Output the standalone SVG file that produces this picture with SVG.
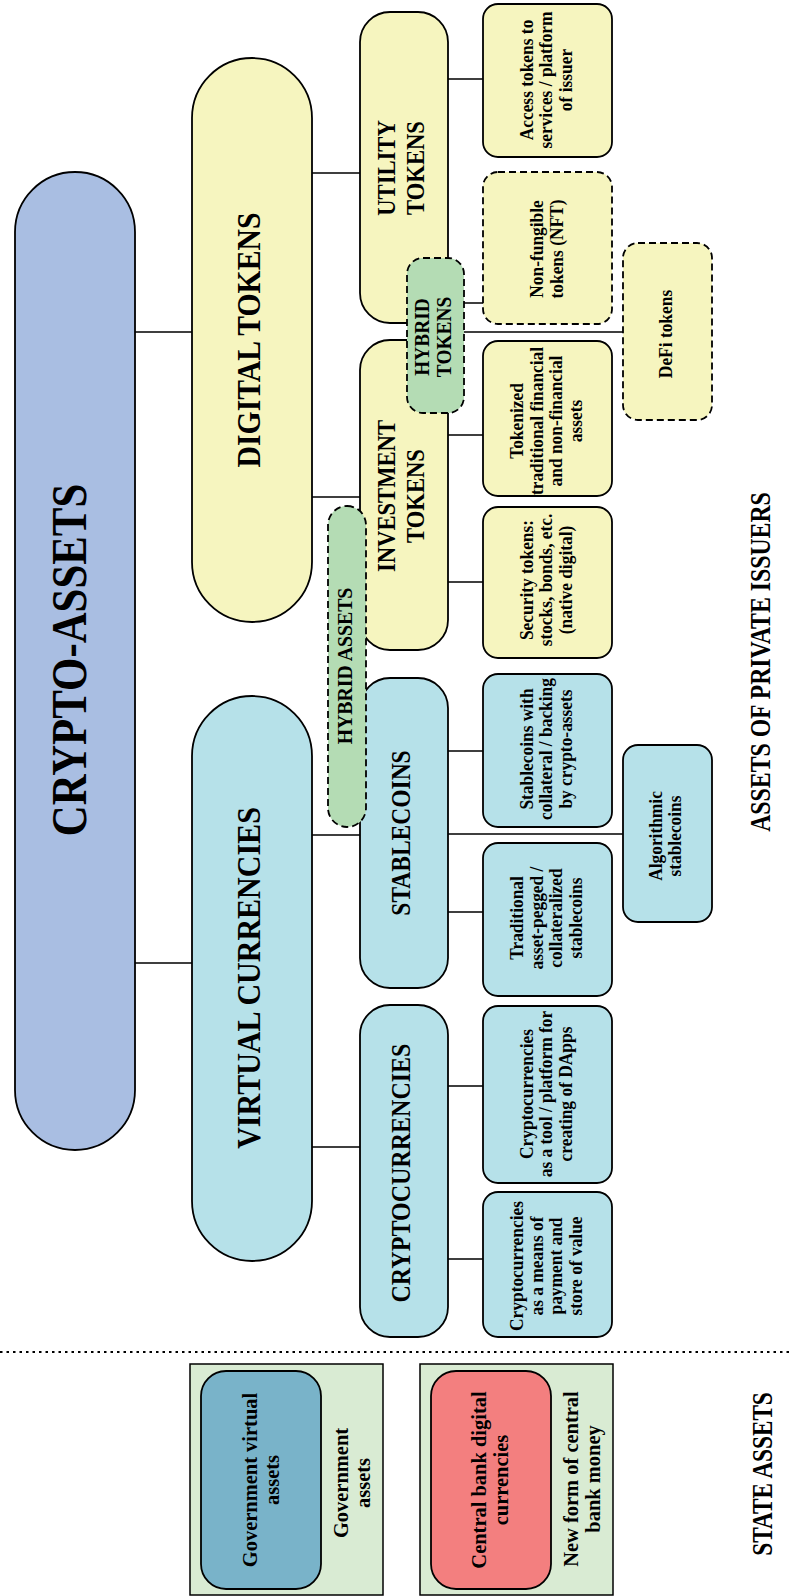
<svg xmlns="http://www.w3.org/2000/svg" width="791" height="1596" viewBox="0 0 791 1596">
<style>
.b{stroke:#000;stroke-width:1.8}
.bg{stroke:#000;stroke-width:1.5}
.d{stroke-dasharray:7 4}
.ca{fill:#a9bee2}
.ye{fill:#f6f5bf}
.bl{fill:#b6e1e9}
.gr{fill:#b4dcb4}
.so{fill:#d9ebd3}
.gv{fill:#79b3c9}
.cb{fill:#f37f7f}
.ln{stroke:#000;stroke-width:1.6;fill:none}
text{font-family:"Liberation Serif","Times New Roman",serif;font-weight:bold;text-anchor:middle;fill:#000}
.s{font-size:18.5px}
.m{font-size:22px}
</style>
<rect width="791" height="1596" fill="#fff"/>
<g id="connectors">
<path class="ln" d="M135 332H192M135 963H192M312 173H360M312 497H360M312 835H360M312 1147H360M448 79H483M464 303H483M464 332H623M448 435H483M448 582H483M448 751H483M448 834H623M448 912H483M448 1086H483M448 1259H483"/>
<line x1="0" y1="1352" x2="791" y2="1352" stroke="#000" stroke-width="2" stroke-dasharray="2.5 4"/>
</g>
<g id="crypto-assets">
<rect class="b ca" x="15" y="172" width="120" height="978" rx="60"/>
<text transform="translate(69.5,660) rotate(-90) scale(0.857,1)" font-size="50"><tspan x="0" y="16.5">CRYPTO-ASSETS</tspan></text>
</g>
<g id="digital-tokens">
<rect class="b ye" x="192" y="58" width="120" height="564" rx="60"/>
<text transform="translate(248.5,340) rotate(-90) scale(0.9,1)" font-size="33"><tspan x="0" y="11">DIGITAL TOKENS</tspan></text>
</g>
<g id="virtual-currencies">
<rect class="b bl" x="192" y="696" width="120" height="565" rx="60"/>
<text transform="translate(248.5,978) rotate(-90) scale(0.91,1)" font-size="33"><tspan x="0" y="11">VIRTUAL CURRENCIES</tspan></text>
</g>
<g id="utility-tokens">
<rect class="b ye" x="360" y="12" width="88" height="311" rx="30"/>
<text transform="translate(400.75,168) rotate(-90) scale(0.87,1)" font-size="26"><tspan x="0" y="-6.1">UTILITY</tspan><tspan x="0" y="23.4">TOKENS</tspan></text>
</g>
<g id="investment-tokens">
<rect class="b ye" x="360" y="340" width="88" height="310" rx="30"/>
<text transform="translate(400.75,496) rotate(-90) scale(0.87,1)" font-size="26"><tspan x="0" y="-6.1">INVESTMENT</tspan><tspan x="0" y="23.4">TOKENS</tspan></text>
</g>
<g id="stablecoins">
<rect class="b bl" x="360" y="678" width="88" height="310" rx="30"/>
<text transform="translate(401,833) rotate(-90) scale(0.87,1)" font-size="27"><tspan x="0" y="9">STABLECOINS</tspan></text>
</g>
<g id="cryptocurrencies">
<rect class="b bl" x="360" y="1005" width="88" height="332" rx="30"/>
<text transform="translate(401,1173) rotate(-90) scale(0.89,1)" font-size="27"><tspan x="0" y="9">CRYPTOCURRENCIES</tspan></text>
</g>
<g id="hybrid-assets">
<rect class="b gr d" x="328" y="506" width="38" height="321" rx="19"/>
<text transform="translate(344.5,666) rotate(-90) scale(0.9,1)" font-size="22"><tspan x="0" y="7.3">HYBRID ASSETS</tspan></text>
</g>
<g id="access-tokens">
<rect class="b ye" x="483" y="4" width="129" height="153" rx="15"/>
<text class="s" transform="translate(546,80) rotate(-90) scale(0.94,1)"><tspan x="0" y="-13.2">Access tokens to</tspan><tspan x="0" y="6.3">services / platform</tspan><tspan x="0" y="25.8">of issuer</tspan></text>
</g>
<g id="nft">
<rect class="b ye d" x="483" y="172" width="129" height="152" rx="15"/>
<text class="s" transform="translate(546.5,249) rotate(-90) scale(0.94,1)"><tspan x="0" y="-3.45">Non-fungible</tspan><tspan x="0" y="16.05">tokens (NFT)</tspan></text>
</g>
<g id="hybrid-tokens">
<rect class="b gr d" x="407" y="258" width="57" height="155" rx="16"/>
<text transform="translate(432.5,337) rotate(-90) scale(0.88,1)" font-size="22"><tspan x="0" y="-3.7">HYBRID</tspan><tspan x="0" y="18.3">TOKENS</tspan></text>
</g>
<g id="defi-tokens">
<rect class="b ye d" x="623" y="243" width="89" height="177" rx="15"/>
<text class="s" transform="translate(666,334) rotate(-90) scale(0.94,1)"><tspan x="0" y="6.3">DeFi tokens</tspan></text>
</g>
<g id="tokenized-assets">
<rect class="b ye" x="483" y="341" width="129" height="155" rx="15"/>
<text class="s" transform="translate(546,421) rotate(-90) scale(0.94,1)"><tspan x="0" y="-22.95">Tokenized</tspan><tspan x="0" y="-3.45">traditional financial</tspan><tspan x="0" y="16.05">and non-financial</tspan><tspan x="0" y="35.55">assets</tspan></text>
</g>
<g id="security-tokens">
<rect class="b ye" x="483" y="507" width="129" height="151" rx="15"/>
<text class="s" transform="translate(546,580) rotate(-90) scale(0.94,1)"><tspan x="0" y="-13.2">Security tokens:</tspan><tspan x="0" y="6.3">stocks, bonds, etc.</tspan><tspan x="0" y="25.8">(native digital)</tspan></text>
</g>
<g id="crypto-backed-stablecoins">
<rect class="b bl" x="483" y="674" width="129" height="153" rx="15"/>
<text class="s" transform="translate(546,749) rotate(-90) scale(0.94,1)"><tspan x="0" y="-13.2">Stablecoins with</tspan><tspan x="0" y="6.3">collateral / backing</tspan><tspan x="0" y="25.8">by crypto-assets</tspan></text>
</g>
<g id="algorithmic-stablecoins">
<rect class="b bl" x="623" y="745" width="89" height="177" rx="15"/>
<text class="s" transform="translate(665,836) rotate(-90) scale(0.94,1)"><tspan x="0" y="-3.45">Algorithmic</tspan><tspan x="0" y="16.05">stablecoins</tspan></text>
</g>
<g id="traditional-stablecoins">
<rect class="b bl" x="483" y="843" width="129" height="153" rx="15"/>
<text class="s" transform="translate(546,918) rotate(-90) scale(0.94,1)"><tspan x="0" y="-22.95">Traditional</tspan><tspan x="0" y="-3.45">asset-pegged /</tspan><tspan x="0" y="16.05">collateralized</tspan><tspan x="0" y="35.55">stablecoins</tspan></text>
</g>
<g id="crypto-platform">
<rect class="b bl" x="483" y="1006" width="129" height="177" rx="15"/>
<text class="s" transform="translate(546,1094) rotate(-90) scale(0.94,1)"><tspan x="0" y="-13.2">Cryptocurrencies</tspan><tspan x="0" y="6.3">as a tool / platform for</tspan><tspan x="0" y="25.8">creating of DApps</tspan></text>
</g>
<g id="crypto-payment">
<rect class="b bl" x="483" y="1192" width="129" height="145" rx="15"/>
<text class="s" transform="translate(546,1266) rotate(-90) scale(0.94,1)"><tspan x="0" y="-22.95">Cryptocurrencies</tspan><tspan x="0" y="-3.45">as a means of</tspan><tspan x="0" y="16.05">payment and</tspan><tspan x="0" y="35.55">store of value</tspan></text>
</g>
<g id="private-issuers-label">
<text transform="translate(760,662) rotate(-90) scale(0.82,1)" font-size="29"><tspan x="0" y="9.6">ASSETS OF PRIVATE ISSUERS</tspan></text>
</g>
<g id="government-assets">
<rect class="bg so" x="190" y="1364" width="193" height="231"/>
<rect class="b gv" x="201" y="1371" width="120" height="218" rx="25"/>
<text class="m" transform="translate(260.5,1480) rotate(-90) scale(0.93,1)"><tspan x="0" y="-3.5">Government virtual</tspan><tspan x="0" y="18.5">assets</tspan></text>
<text class="m" transform="translate(351.5,1483) rotate(-90) scale(0.93,1)"><tspan x="0" y="-3.5">Government</tspan><tspan x="0" y="18.5">assets</tspan></text>
</g>
<g id="cbdc">
<rect class="bg so" x="420" y="1364" width="193" height="231"/>
<rect class="b cb" x="431" y="1371" width="120" height="218" rx="25"/>
<text class="m" transform="translate(489,1480) rotate(-90) scale(0.93,1)"><tspan x="0" y="-3.5">Central bank digital</tspan><tspan x="0" y="18.5">currencies</tspan></text>
<text class="m" transform="translate(581,1479) rotate(-90) scale(0.93,1)"><tspan x="0" y="-3.5">New form of central</tspan><tspan x="0" y="18.5">bank money</tspan></text>
</g>
<g id="state-assets-label">
<text transform="translate(762,1474) rotate(-90) scale(0.8,1)" font-size="29"><tspan x="0" y="9.6">STATE ASSETS</tspan></text>
</g>
</svg>
